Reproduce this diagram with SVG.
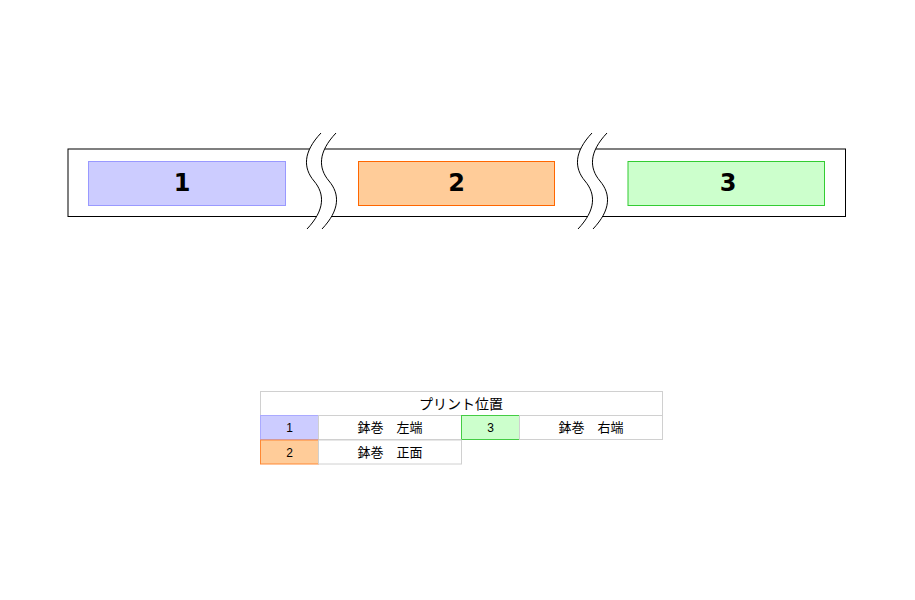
<svg xmlns="http://www.w3.org/2000/svg" width="915" height="600" viewBox="0 0 915 600">
<style>
.band{fill:#fff;stroke:#000;stroke-width:1}
.big{font-family:"DejaVu Sans",sans-serif;font-weight:bold;font-size:24px;text-anchor:middle;fill:#000}
.cell{fill:#fff;stroke:#d0d0d0;stroke-width:1}
.txt{font-family:"Noto Sans CJK JP","Liberation Sans",sans-serif;font-size:13px;text-anchor:middle;fill:#000}
.num{font-family:"Liberation Sans",sans-serif;font-size:12px;text-anchor:middle;fill:#000}
.wave{fill:none;stroke:#000;stroke-width:1}
</style>
<defs>
<g id="brk">
<path d="M321,133 C303,152 303,168 314,181 C325,194 325,210 307,229 L322,229 C340,210 340,194 329,181 C318,168 318,152 336,133 Z" fill="#fff" stroke="none"/>
<path class="wave" d="M321,133 C303,152 303,168 314,181 C325,194 325,210 307,229"/>
<path class="wave" d="M336,133 C318,152 318,168 329,181 C340,194 340,210 322,229"/>
</g>
</defs>
<g id="band">
<rect class="band" x="68" y="149" width="777.5" height="67.5"/>
</g>
<g id="connectors">
<use href="#brk"/>
<use href="#brk" transform="translate(271,0)"/>
</g>
<g id="pos1">
<rect x="88.5" y="161.5" width="197" height="44" fill="#ccccff" stroke="#9999ff"/>
<text class="big" x="182" y="191">1</text>
</g>
<g id="pos2">
<rect x="358.5" y="161.5" width="196" height="44" fill="#ffcc99" stroke="#ff6600"/>
<text class="big" x="456.5" y="191">2</text>
</g>
<g id="pos3">
<rect x="628" y="161.5" width="196.5" height="44" fill="#ccffcc" stroke="#33cc33"/>
<text class="big" x="728" y="191">3</text>
</g>
<g id="legend">
<rect class="cell" x="260.5" y="391.5" width="402" height="24"/>
<text class="txt" x="461" y="409" font-size="14" style="font-size:14px">プリント位置</text>
<rect x="260.5" y="415.5" width="58" height="24" fill="#ccccff" stroke="#aaaaff"/>
<text class="num" x="289.5" y="432">1</text>
<rect class="cell" x="318.5" y="415.5" width="143" height="24"/>
<text class="txt" x="390" y="432">鉢巻　左端</text>
<rect x="461.5" y="415.5" width="58" height="24" fill="#ccffcc" stroke="#44cc44"/>
<text class="num" x="490.5" y="432">3</text>
<rect class="cell" x="519.5" y="415.5" width="143" height="24"/>
<text class="txt" x="591" y="432">鉢巻　右端</text>
<rect x="260.5" y="440" width="58" height="24" fill="#ffcc99" stroke="#ff8833"/>
<text class="num" x="289.5" y="456.5">2</text>
<rect class="cell" x="318.5" y="440" width="143" height="24"/>
<text class="txt" x="390" y="456.5">鉢巻　正面</text>
</g>
</svg>
